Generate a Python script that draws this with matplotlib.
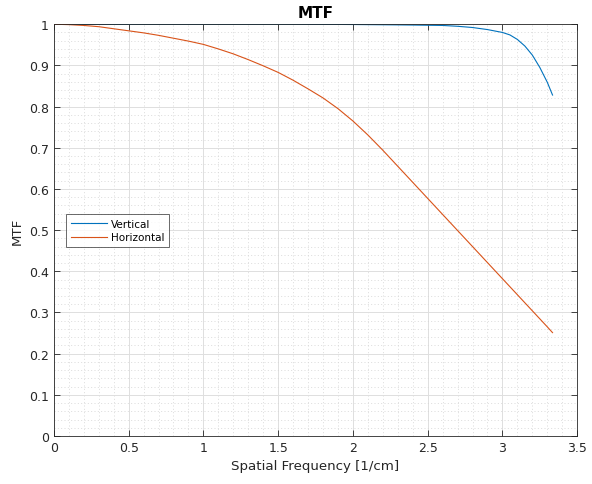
import numpy as np
import matplotlib
matplotlib.use('Agg')
import matplotlib.pyplot as plt
from matplotlib.ticker import MultipleLocator

# spatial frequency [1/cm]
freq = [0.0, 0.1, 0.2, 0.3, 0.4, 0.5, 0.6, 0.7, 0.8, 0.9,
        1.0, 1.1, 1.2, 1.3, 1.4, 1.5, 1.6, 1.7, 1.8, 1.9,
        2.0, 2.1, 2.2, 2.3, 2.4, 2.5, 2.6, 2.7, 2.8, 2.9,
        3.0, 3.05, 3.1, 3.15, 3.2, 3.25, 3.3, 3.335]

mtf_vertical = [1.000, 1.000, 1.000, 1.000, 1.000, 1.000, 1.000, 1.000, 1.000, 1.000,
                1.000, 1.000, 1.000, 1.000, 1.000, 1.000, 1.000, 0.9998, 0.9997, 0.9995,
                0.9993, 0.999, 0.9987, 0.9984, 0.998, 0.9975, 0.997, 0.995, 0.992, 0.987,
                0.980, 0.974, 0.963, 0.947, 0.925, 0.895, 0.859, 0.828]

mtf_horizontal = [1.000, 0.999, 0.997, 0.994, 0.989, 0.984, 0.979, 0.973, 0.966, 0.959,
                  0.951, 0.940, 0.928, 0.914, 0.899, 0.883, 0.864, 0.843, 0.821, 0.795,
                  0.765, 0.731, 0.694, 0.655, 0.616, 0.577, 0.538, 0.499, 0.460, 0.421,
                  0.382, 0.3625, 0.343, 0.3235, 0.304, 0.2845, 0.265, 0.251]

x_ticks = [0, 0.5, 1, 1.5, 2, 2.5, 3, 3.5]
x_ticklabels = ['0', '0.5', '1', '1.5', '2', '2.5', '3', '3.5']
y_ticks = [0, 0.1, 0.2, 0.3, 0.4, 0.5, 0.6, 0.7, 0.8, 0.9, 1]
y_ticklabels = ['0', '0.1', '0.2', '0.3', '0.4', '0.5', '0.6', '0.7', '0.8', '0.9', '1']

axis_col = '#262626'

fig = plt.figure(figsize=(5.92, 4.85), dpi=100)
ax = fig.add_axes([0.091, 0.099, 0.884, 0.849])

ax.plot(freq, mtf_vertical, color='#0072BD', lw=0.8, label='Vertical')
ax.plot(freq, mtf_horizontal, color='#D95319', lw=0.8, label='Horizontal')

ax.set_xlim(0, 3.5)
ax.set_ylim(0, 1)
ax.set_xticks(x_ticks)
ax.set_xticklabels(x_ticklabels)
ax.set_yticks(y_ticks)
ax.set_yticklabels(y_ticklabels)
ax.xaxis.set_minor_locator(MultipleLocator(0.1))
ax.yaxis.set_minor_locator(MultipleLocator(0.02))

ax.grid(True, which='major', color='#dedede', lw=0.7, ls='-')
ax.grid(True, which='minor', color='#d6d6d6', lw=0.6, ls=(0, (1.2, 2.8)))
ax.set_axisbelow(True)

ax.tick_params(which='both', direction='in', top=True, right=True, colors=axis_col,
               labelsize=9)
ax.tick_params(which='major', length=4, width=0.6)
ax.tick_params(which='minor', length=0)
for s in ax.spines.values():
    s.set_color(axis_col)
    s.set_linewidth(0.6)

ax.set_title('MTF', fontsize=11, fontweight='bold', color='black', pad=5)
ax.set_xlabel('Spatial Frequency [1/cm]', fontsize=9.6, color=axis_col)
ax.set_ylabel('MTF', fontsize=9.6, color=axis_col)

leg = ax.legend(loc='center left', bbox_to_anchor=(0.024, 0.499), fontsize=7.5,
                frameon=True, fancybox=False, handlelength=3.4, borderpad=0.45,
                labelspacing=0.37, handletextpad=0.4, borderaxespad=0)
leg.get_frame().set_edgecolor(axis_col)
leg.get_frame().set_linewidth(0.6)

fig.savefig('out.png', dpi=100)
